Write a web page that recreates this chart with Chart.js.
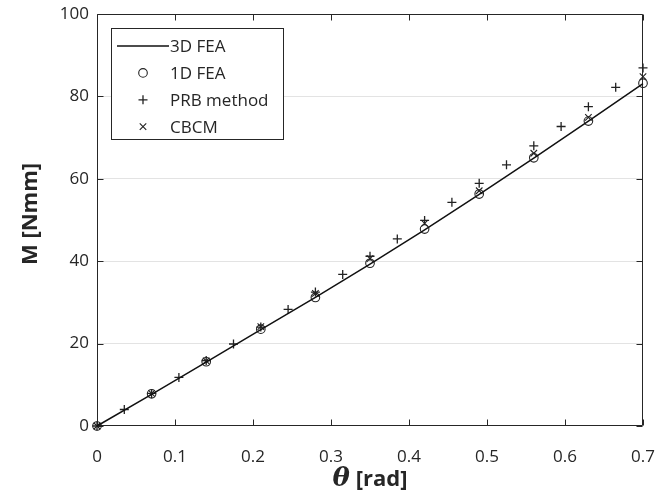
<!DOCTYPE html>
<html>
<head>
<meta charset="utf-8">
<script src="https://cdn.jsdelivr.net/npm/chart.js@4/dist/chart.umd.min.js"></script>
<style>
  body { margin: 0; background: #fff; }
  canvas { display: block; }
</style>
</head>
<body>
<canvas id="grafica-momento" width="655" height="500"></canvas>
<script>
// ángulos [rad] y momentos [Nmm]
const thetaFea = [0, 0.07, 0.14, 0.21, 0.28, 0.35, 0.42, 0.49, 0.56, 0.63, 0.70];
const m3dFea = [0, 7.7, 15.5, 23.4, 31.2, 39.3, 47.6, 56.2, 65.0, 74.0, 83.1];
const m1dFea = [0, 7.8, 15.6, 23.5, 31.2, 39.5, 47.8, 56.3, 65.1, 74.0, 83.2];
const mCbcm = [0, 7.9, 15.8, 24.1, 32.2, 40.6, 49.2, 57.1, 66.2, 74.9, 84.8];

const thetaPrb = [0, 0.035, 0.07, 0.105, 0.14, 0.175, 0.21, 0.245, 0.28, 0.315, 0.35,
                  0.385, 0.42, 0.455, 0.49, 0.525, 0.56, 0.595, 0.63, 0.665, 0.70];
const mPrb = [0, 4.0, 7.9, 11.8, 15.9, 19.9, 24.0, 28.3, 32.5, 36.8, 41.2,
              45.4, 49.9, 54.3, 58.9, 63.4, 68.0, 72.7, 77.5, 82.2, 86.9];

const ticksTheta = [0, 0.1, 0.2, 0.3, 0.4, 0.5, 0.6, 0.7];
const ticksM = [0, 20, 40, 60, 80, 100];

const puntos = (xs, ys) => xs.map((x, i) => ({ x, y: ys[i] }));

const fuente = '"Open Sans", sans-serif';
const colorEjes = '#262626';

// marco con marcas de graduación hacia dentro
const marcoEjes = {
  id: 'marcoEjes',
  beforeDatasetsDraw(chart) {
    const { ctx, chartArea: a, scales: { x, y } } = chart;
    const l = Math.round(a.left) + 0.5, r = Math.round(a.right) - 0.5;
    const t = Math.round(a.top) + 0.5, b = Math.round(a.bottom) - 0.5;
    ctx.save();
    ctx.strokeStyle = colorEjes;
    ctx.lineWidth = 1;
    ctx.beginPath();
    ctx.rect(l, t, r - l, b - t);
    ticksTheta.forEach(v => {
      const px = Math.round(x.getPixelForValue(v)) + 0.5;
      ctx.moveTo(px, b); ctx.lineTo(px, b - 6);
      ctx.moveTo(px, t); ctx.lineTo(px, t + 6);
    });
    ticksM.forEach(v => {
      const py = Math.round(y.getPixelForValue(v)) + 0.5;
      ctx.moveTo(l, py); ctx.lineTo(l + 6, py);
      ctx.moveTo(r, py); ctx.lineTo(r - 6, py);
    });
    ctx.stroke();
    ctx.restore();
  }
};

// leyenda dentro del área del gráfico
const leyenda = {
  id: 'leyenda',
  afterDatasetsDraw(chart) {
    const { ctx, chartArea: a } = chart;
    const x0 = a.left + 14, y0 = a.top + 14;
    ctx.save();
    ctx.fillStyle = '#fff';
    ctx.fillRect(x0, y0, 172, 111);
    ctx.strokeStyle = colorEjes;
    ctx.lineWidth = 1;
    ctx.strokeRect(x0 + 0.5, y0 + 0.5, 172, 111);
    ctx.font = '17px ' + fuente;
    ctx.textBaseline = 'middle';
    chart.data.datasets.forEach((ds, i) => {
      const yy = y0 + 18 + i * 26.9;
      if (ds.showLine) {
        ctx.strokeStyle = ds.borderColor;
        ctx.lineWidth = ds.borderWidth;
        ctx.beginPath();
        ctx.moveTo(x0 + 6, yy); ctx.lineTo(x0 + 58, yy);
        ctx.stroke();
      } else {
        ctx.fillStyle = 'rgba(0,0,0,0)';
        ctx.strokeStyle = ds.pointBorderColor;
        ctx.lineWidth = ds.pointBorderWidth;
        Chart.helpers.drawPoint(ctx, {
          pointStyle: ds.pointStyle,
          radius: ds.pointRadius,
          rotation: 0,
          borderWidth: ds.pointBorderWidth
        }, x0 + 32, yy);
      }
      ctx.fillStyle = colorEjes;
      ctx.fillText(ds.label, x0 + 59, yy + 1);
    });
    ctx.restore();
  }
};

// títulos de los ejes
const titulos = {
  id: 'titulos',
  afterDraw(chart) {
    const { ctx, chartArea: a } = chart;
    ctx.save();
    ctx.fillStyle = colorEjes;
    ctx.textBaseline = 'alphabetic';
    const cx = (a.left + a.right) / 2;
    const fTheta = 'italic bold 26px "DejaVu Serif", serif';
    const fRad = 'bold 22px ' + fuente;
    ctx.font = fTheta;
    const wT = ctx.measureText('θ').width;
    ctx.font = fRad;
    const wR = ctx.measureText(' [rad]').width;
    const xs = cx - (wT + wR) / 2;
    ctx.font = fTheta;
    ctx.fillText('θ', xs, 486);
    ctx.font = fRad;
    ctx.fillText(' [rad]', xs + wT, 486);

    ctx.translate(37, 214);
    ctx.rotate(-Math.PI / 2);
    ctx.textAlign = 'center';
    ctx.font = 'bold 22px ' + fuente;
    ctx.fillText('M [Nmm]', 0, 0);
    ctx.restore();
  }
};

new Chart(document.getElementById('grafica-momento').getContext('2d'), {
  type: 'scatter',
  data: {
    datasets: [{
      label: '3D FEA',
      data: puntos(thetaFea, m3dFea),
      showLine: true,
      borderColor: '#111',
      borderWidth: 1.5,
      pointRadius: 0,
      pointStyle: 'line',
      tension: 0
    }, {
      label: '1D FEA',
      data: puntos(thetaFea, m1dFea),
      pointStyle: 'circle',
      pointRadius: 4.3,
      pointBorderWidth: 1.1,
      pointBorderColor: '#222',
      pointBackgroundColor: 'rgba(0,0,0,0)'
    }, {
      label: 'PRB method',
      data: puntos(thetaPrb, mPrb),
      pointStyle: 'cross',
      pointRadius: 4.5,
      pointBorderWidth: 1.3,
      pointBorderColor: '#222',
      pointBackgroundColor: 'rgba(0,0,0,0)'
    }, {
      label: 'CBCM',
      data: puntos(thetaFea, mCbcm),
      pointStyle: 'crossRot',
      pointRadius: 4.6,
      pointBorderWidth: 1.1,
      pointBorderColor: '#222',
      pointBackgroundColor: 'rgba(0,0,0,0)'
    }]
  },
  options: {
    responsive: false,
    animation: false,
    devicePixelRatio: 1,
    clip: false,
    layout: { padding: { left: 0, right: 12, top: 14, bottom: 0 } },
    plugins: {
      legend: { display: false },
      tooltip: { enabled: false }
    },
    scales: {
      x: {
        type: 'linear',
        min: 0,
        max: 0.7,
        afterBuildTicks: s => { s.ticks = ticksTheta.map(v => ({ value: v })); },
        afterFit: s => { s.height = 74; s.paddingLeft = 0; s.paddingRight = 0; },
        ticks: {
          padding: 13,
          color: colorEjes,
          font: { family: fuente, size: 17 },
          maxRotation: 0,
          callback: v => String(+v.toFixed(1))
        },
        grid: { display: false },
        border: { display: false }
      },
      y: {
        min: 0,
        max: 100,
        afterBuildTicks: s => { s.ticks = ticksM.map(v => ({ value: v })); },
        afterFit: s => { s.width = 97; s.paddingTop = 0; s.paddingBottom = 0; },
        ticks: {
          padding: 8,
          color: colorEjes,
          font: { family: fuente, size: 17 }
        },
        grid: {
          drawTicks: false,
          color: c => (c.tick.value > 0 && c.tick.value < 100) ? '#e3e3e3' : 'rgba(0,0,0,0)'
        },
        border: { display: false }
      }
    }
  },
  plugins: [marcoEjes, leyenda, titulos]
});
</script>
</body>
</html>
